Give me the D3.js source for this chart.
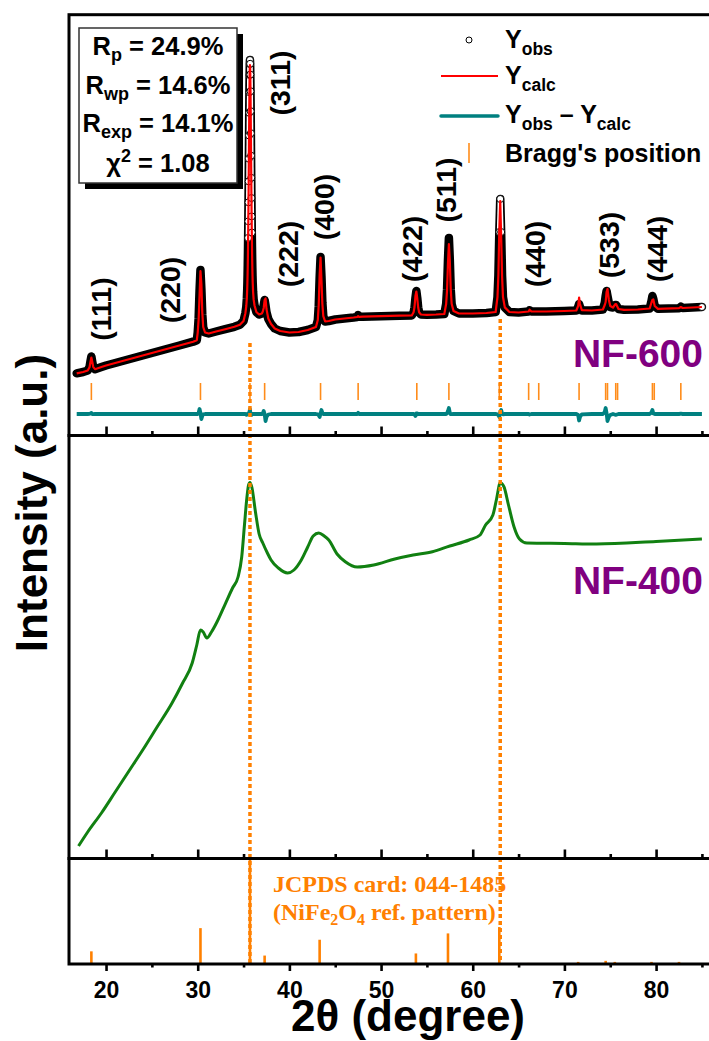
<!DOCTYPE html>
<html><head><meta charset="utf-8">
<script src="https://cdn.jsdelivr.net/npm/d3@7"></script>
<style>
html,body{margin:0;padding:0;background:#fff;}
svg{display:block;font-family:"Liberation Sans",Arial,sans-serif;}
</style></head><body>
<svg id="chart" width="709" height="1041"></svg>
<script>
// ---------------- DATA ----------------
// NF-600 Rietveld refinement (a.u.)
const obsTheta = [16.80,17.50,18.00,18.20,18.30,18.40,18.50,18.60,18.80,19.50,20.00,22.00,24.00,26.00,28.00,29.50,29.90,
30.00,30.10,30.20,30.30,30.40,30.50,30.60,30.80,31.20,32.00,33.00,34.00,34.60,35.00,35.10,35.20,35.30,35.36,35.40,
35.42,35.44,35.46,35.48,35.50,35.52,35.54,35.56,35.58,35.60,35.62,35.64,35.66,35.68,35.70,35.72,35.74,35.76,35.78,
35.80,35.82,35.84,35.86,35.88,35.90,35.92,35.94,35.96,35.98,36.00,36.04,36.10,36.20,36.40,36.70,37.00,37.10,37.20,
37.30,37.40,37.50,37.70,38.00,38.40,39.00,40.00,41.00,42.00,42.60,42.90,43.10,43.20,43.30,43.40,43.50,43.60,43.70,
43.90,44.30,45.00,46.00,47.00,47.40,47.50,47.60,48.00,50.00,52.00,53.35,53.55,53.65,53.75,53.85,53.95,54.05,54.15,
54.35,55.00,56.00,56.90,57.10,57.20,57.30,57.40,57.50,57.60,57.70,57.90,58.50,60.00,61.50,62.50,62.70,62.80,62.90,
63.00,63.10,63.20,63.30,63.50,64.00,65.00,66.10,66.20,66.40,68.00,70.00,71.30,71.50,71.60,71.70,71.90,73.00,74.20,
74.40,74.50,74.60,74.70,74.85,75.00,75.30,75.55,75.65,75.90,76.50,78.00,79.30,79.50,79.60,79.70,79.85,80.20,82.50,
82.70,82.90,85.00];
const obsCounts = [627,640,655,690,745,795,740,690,668,690,705,755,805,855,905,943,958,
1034,1175,1454,1660,1471,1215,1086,1035,1025,1045,1068,1092,1112,1150,1190,1228,1292,1373,1466,
1532,1614,1714,1835,1981,2147,2337,2546,2773,3005,3232,3438,3610,3720,3760,3722,3614,3448,3248,
3028,2803,2582,2380,2196,2035,1894,1776,1679,1599,1535,1446,1366,1305,1240,1215,1225,1250,1310,
1360,1305,1240,1170,1120,1075,1050,1035,1040,1060,1080,1090,1156,1298,1581,1790,1596,1332,1199,
1145,1150,1165,1175,1185,1190,1210,1192,1193,1198,1203,1205,1237,1285,1380,1450,1380,1285,1237,
1215,1212,1215,1220,1320,1468,1763,1980,1763,1468,1320,1251,1225,1225,1230,1240,1387,1605,2040,
2370,2040,1605,1387,1286,1240,1235,1245,1258,1245,1245,1250,1255,1290,1320,1290,1255,1255,1265,
1330,1400,1450,1400,1330,1290,1285,1310,1310,1270,1262,1265,1275,1350,1400,1370,1300,1272,1278,
1293,1280,1290];
const calcCounts = [627,640,655,688,740,785,742,692,668,690,705,755,805,855,905,943,958,
1034,1165,1404,1650,1521,1235,1090,1035,1025,1045,1068,1092,1112,1150,1190,1228,1300,1380,1470,
1535,1614,1710,1830,1975,2140,2330,2540,2765,2995,3220,3420,3585,3680,3710,3690,3600,3440,3245,
3030,2808,2590,2390,2205,2040,1898,1778,1680,1598,1533,1444,1366,1305,1240,1215,1225,1245,1280,
1360,1375,1270,1175,1120,1075,1050,1035,1040,1060,1080,1090,1160,1310,1611,1785,1556,1320,1199,
1145,1150,1165,1175,1185,1190,1198,1192,1193,1198,1203,1205,1237,1290,1400,1445,1375,1285,1237,
1215,1212,1215,1220,1320,1460,1733,1920,1750,1470,1322,1251,1225,1225,1230,1240,1390,1615,2070,
2350,2000,1600,1390,1286,1240,1235,1245,1263,1245,1245,1250,1255,1300,1385,1320,1258,1255,1265,
1310,1340,1440,1470,1360,1300,1285,1318,1318,1270,1262,1265,1275,1335,1360,1365,1300,1272,1278,
1290,1280,1290];
const diffOffset = 220;
const braggTheta = [18.4,30.3,35.7,37.3,43.4,47.5,53.9,57.4,62.9,66.1,67.2,71.6,74.5,74.7,75.6,75.8,79.6,79.8,82.7];

// NF-400 pattern (a.u.)
const nf400Theta = [17.0,18.0,19.5,21.0,22.5,24.0,25.5,27.2,28.3,29.4,29.9,30.3,30.6,31.0,31.5,32.1,33.0,33.8,34.4,34.8,
35.1,35.35,35.55,35.7,35.9,36.3,36.7,37.1,37.6,38.0,38.8,39.8,40.5,41.3,42.0,42.6,43.2,43.8,44.3,45.2,46.1,47.4,
49.2,51.5,53.5,55.6,57.5,59.6,60.8,61.4,62.2,62.6,63.0,63.4,63.9,64.5,65.1,65.9,70.0,73.5,80.0,85.0];
const nf400Counts = [110,250,440,650,860,1070,1290,1540,1730,1940,2120,2270,2250,2190,2250,2350,2530,2690,2800,3000,
3320,3580,3720,3745,3700,3450,3230,3140,3040,2970,2890,2840,2870,2970,3100,3210,3240,3210,3170,3030,2953,2900,
2920,2980,3020,3053,3110,3170,3220,3320,3420,3580,3743,3703,3520,3303,3180,3140,3135,3130,3155,3180];

// JCPDS 044-1485 reference (relative intensity, %)
const jcpdsTheta = [18.4,30.3,35.7,37.3,43.3,47.4,53.8,57.3,62.9,66.1,71.5,74.5,75.5,79.5,82.5];
const jcpdsIntensity = [12,34,100,8,23,1,10,29,35,1,2,3,2,2,2];

// Miller index labels (position in NF-600 units)
const hklLabels = ["(111)","(220)","(311)","(222)","(400)","(422)","(511)","(440)","(533)","(444)"];
const hklTheta = [19.45,26.9,38.98,39.86,43.78,53.38,57.09,66.80,74.88,80.12];
const hklCounts = [1270,1460,3530,1820,2290,1870,2460,1820,1910,1870];

// Reference dashed lines (2θ, starting intensity in NF-600 units)
const refLineTheta = [35.7, 63.0];
const refLineStart = [930, 1170];

const xMajorTicks = [20,30,40,50,60,70,80];
const xMinorTicks = [25,35,45,55,65,75,85];

const statMains = ["R","R","R","χ"];
const statSubs = ["p","wp","exp",""];
const statSups = ["","","","2"];
const statValues = [" = 24.9%"," = 14.6%"," = 14.1%"," = 1.08"];

// ---------------- LAYOUT ----------------
const L = 69, R = 712;
const topY = 14.7, y1 = 435.5, y2 = 858.5, yB = 964;
const ORANGE = "#ff8000";
const svg = d3.select("#chart");

const x = d3.scaleLinear().domain([15.96, 86.1]).range([L, R]);
const yTop = d3.scaleLinear().domain([0, 4210]).range([436, 15]);
const yMid = d3.scaleLinear().domain([0, 4200]).range([857, 437]);
const yBot = d3.scaleLinear().domain([0, 100]).range([yB, y2]);

// ---------------- TOP PANEL ----------------
svg.append("g").selectAll("line").data(braggTheta).join("line")
  .attr("x1", d => x(d)).attr("x2", d => x(d))
  .attr("y1", 383).attr("y2", 400)
  .attr("stroke", "#ff8c1a").attr("stroke-width", 1.6);

const diffLine = d3.line().x((d,i) => x(obsTheta[i])).y((d,i) => yTop(obsCounts[i] - calcCounts[i] + diffOffset));
svg.append("path").datum(obsTheta).attr("d", diffLine)
  .attr("fill","none").attr("stroke","#008080").attr("stroke-width",3.8).attr("stroke-linejoin","round");

const obsLine = d3.line().x((d,i) => x(obsTheta[i])).y((d,i) => yTop(obsCounts[i]));
svg.append("path").datum(obsTheta).attr("d", obsLine)
  .attr("fill","none").attr("stroke","#000").attr("stroke-width",8.5)
  .attr("stroke-linejoin","round").attr("stroke-linecap","round");

const pts = obsTheta.map((t,i) => [x(t), yTop(obsCounts[i])]);
const steep = [];
const circleIdx = new Set();
for (let i = 0; i < pts.length - 1; i++) {
  const dx = Math.abs(pts[i+1][0]-pts[i][0]), dy = Math.abs(pts[i+1][1]-pts[i][1]);
  if (dy > 3*dx && Math.min(pts[i][1], pts[i+1][1]) < 230) { steep.push(i); circleIdx.add(i); circleIdx.add(i+1); }
}
circleIdx.add(pts.length-1);
svg.append("g").selectAll("line").data(steep).join("line")
  .attr("x1", i => pts[i][0]).attr("y1", i => pts[i][1])
  .attr("x2", i => pts[i+1][0]).attr("y2", i => pts[i+1][1])
  .attr("stroke","#fff").attr("stroke-width",5);
svg.append("g").selectAll("circle").data([...circleIdx]).join("circle")
  .attr("cx", i => pts[i][0]).attr("cy", i => pts[i][1]).attr("r", 3.5)
  .attr("fill","#fff").attr("stroke","#000").attr("stroke-width",1);

const calcLine = d3.line().x((d,i) => x(obsTheta[i])).y((d,i) => yTop(calcCounts[i]));
svg.append("path").datum(obsTheta).attr("d", calcLine)
  .attr("fill","none").attr("stroke","#ff0000").attr("stroke-width",2.2).attr("stroke-linejoin","round");

svg.append("g").selectAll("text").data(hklLabels).join("text")
  .attr("transform", (d,i) => `translate(${x(hklTheta[i])},${yTop(hklCounts[i])}) rotate(-90)`)
  .attr("text-anchor","middle").attr("dy","0.36em")
  .attr("font-size",28.5).attr("font-weight","bold").attr("fill","#000")
  .text(d => d);

// ---------------- MIDDLE PANEL ----------------
const nfLine = d3.line().curve(d3.curveMonotoneX).x((d,i) => x(nf400Theta[i])).y((d,i) => yMid(nf400Counts[i]));
svg.append("path").datum(nf400Theta).attr("d", nfLine)
  .attr("fill","none").attr("stroke","#118011").attr("stroke-width",3).attr("stroke-linejoin","round");

// ---------------- DASHED REFERENCE LINES ----------------
svg.append("g").selectAll("line").data(refLineTheta).join("line")
  .attr("x1", d => x(d)).attr("x2", d => x(d))
  .attr("y1", (d,i) => yTop(refLineStart[i])).attr("y2", yBot(0))
  .attr("stroke", ORANGE).attr("stroke-width",3.5).attr("stroke-dasharray","4 3");

// ---------------- BOTTOM PANEL ----------------
svg.append("g").selectAll("line").data(jcpdsTheta).join("line")
  .attr("x1", d => x(d)).attr("x2", d => x(d))
  .attr("y1", yBot(0)).attr("y2", (d,i) => yBot(jcpdsIntensity[i]))
  .attr("stroke", ORANGE).attr("stroke-width",2.6);

const jt = svg.append("g").attr("fill", ORANGE).attr("font-family","'Liberation Serif','Times New Roman',serif")
  .attr("font-weight","bold").attr("font-size",24);
jt.append("text").attr("x",273).attr("y",892).text("JCPDS card: 044-1485");
const jt2 = jt.append("text").attr("x",273).attr("y",920);
jt2.append("tspan").text("(NiFe");
jt2.append("tspan").attr("font-size",16).attr("dy",5).text("2");
jt2.append("tspan").attr("dy",-5).text("O");
jt2.append("tspan").attr("font-size",16).attr("dy",5).text("4");
jt2.append("tspan").attr("dy",-5).text(" ref. pattern)");

// ---------------- AXES ----------------
function inwardAxis(yPos) {
  svg.append("g").attr("transform",`translate(0,${yPos})`)
    .call(d3.axisBottom(x).tickValues(xMajorTicks).tickSize(-9).tickFormat(""))
    .call(g => g.select(".domain").remove())
    .call(g => g.selectAll("line").attr("stroke","#000").attr("stroke-width",2.6));
  svg.append("g").attr("transform",`translate(0,${yPos})`)
    .call(d3.axisBottom(x).tickValues(xMinorTicks).tickSize(-4.5).tickFormat(""))
    .call(g => g.select(".domain").remove())
    .call(g => g.selectAll("line").attr("stroke","#000").attr("stroke-width",2.6));
}
inwardAxis(y1);
inwardAxis(y2);
svg.append("g").attr("transform",`translate(0,${yB})`)
  .call(d3.axisBottom(x).tickValues(xMajorTicks).tickSize(7).tickPadding(10.5).tickFormat(d3.format("d")))
  .call(g => g.select(".domain").remove())
  .call(g => g.selectAll("line").attr("stroke","#000").attr("stroke-width",2.6))
  .call(g => g.selectAll("text").attr("font-size",23).attr("font-weight","bold")
      .attr("font-family","'Liberation Sans',Arial,sans-serif").attr("fill","#000"));
svg.append("g").attr("transform",`translate(0,${yB})`)
  .call(d3.axisBottom(x).tickValues(xMinorTicks).tickSize(3.5).tickFormat(""))
  .call(g => g.select(".domain").remove())
  .call(g => g.selectAll("line").attr("stroke","#000").attr("stroke-width",2.6));

[[topY,y1],[y1,y2],[y2,yB]].forEach(([a,b]) => {
  svg.append("rect").attr("x",L).attr("y",a).attr("width",R-L).attr("height",b-a)
    .attr("fill","none").attr("stroke","#000").attr("stroke-width",3);
});

svg.append("text").attr("x",703).attr("y",367).attr("text-anchor","end")
  .attr("font-size",39).attr("font-weight","bold").attr("fill","#800080").text("NF-600");
svg.append("text").attr("x",703).attr("y",594).attr("text-anchor","end")
  .attr("font-size",39).attr("font-weight","bold").attr("fill","#800080").text("NF-400");

svg.append("text").attr("x",408).attr("y",1031).attr("text-anchor","middle")
  .attr("font-size",44).attr("font-weight","bold").text("2θ (degree)");
svg.append("text").attr("transform","translate(47,503) rotate(-90)").attr("text-anchor","middle")
  .attr("font-size",44).attr("font-weight","bold").text("Intensity (a.u.)");

// ---------------- STATS BOX ----------------
svg.append("rect").attr("x",85).attr("y",34).attr("width",158).attr("height",155).attr("fill","#000");
svg.append("rect").attr("x",79).attr("y",28).attr("width",158).attr("height",155)
  .attr("fill","#fff").attr("stroke","#333").attr("stroke-width",1.5);
const statBase = [55,94,132,172];
statMains.forEach((m,i) => {
  const t = svg.append("text").attr("x",158).attr("y",statBase[i]).attr("text-anchor","middle")
    .attr("font-size",25.5).attr("font-weight","bold");
  t.append("tspan").text(m);
  if (statSubs[i]) {
    t.append("tspan").attr("font-size",18).attr("dy",6).text(statSubs[i]);
    t.append("tspan").attr("dy",-6).text(statValues[i]);
  } else {
    t.append("tspan").attr("font-size",18).attr("dy",-10).text(statSups[i]);
    t.append("tspan").attr("dy",10).text(statValues[i]);
  }
});

// ---------------- LEGEND ----------------
const lg = svg.append("g");
lg.append("circle").attr("cx",469).attr("cy",40).attr("r",3).attr("fill","#fff").attr("stroke","#000").attr("stroke-width",1);
lg.append("line").attr("x1",441).attr("x2",498).attr("y1",76).attr("y2",76).attr("stroke","#ff0000").attr("stroke-width",1.8);
lg.append("line").attr("x1",441).attr("x2",498).attr("y1",116).attr("y2",116).attr("stroke","#008080").attr("stroke-width",3.5).attr("stroke-linecap","round");
lg.append("line").attr("x1",469).attr("x2",469).attr("y1",143).attr("y2",163).attr("stroke","#ff8c1a").attr("stroke-width",1.6);
function legText(y, parts) {
  const t = lg.append("text").attr("x",505).attr("y",y).attr("font-size",25).attr("font-weight","bold");
  let shift = 0;
  parts.forEach(([s, sub]) => {
    const want = sub ? 7 : 0;
    t.append("tspan").attr("font-size", sub ? 17.5 : 25).attr("dy", want - shift).text(s);
    shift = want;
  });
}
legText(48, [["Y",0],["obs",1]]);
legText(84, [["Y",0],["calc",1]]);
legText(123, [["Y",0],["obs",1],[" – Y",0],["calc",1]]);
legText(162, [["Bragg's position",0]]);
</script>
</body></html>
